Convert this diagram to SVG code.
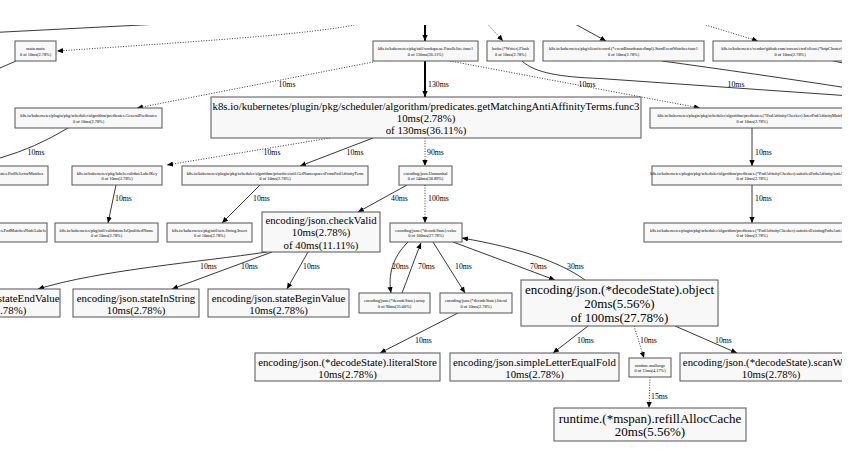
<svg xmlns="http://www.w3.org/2000/svg" width="851" height="475" viewBox="0 0 851 475">
<style>
.n rect{fill:#f8f8f8;stroke:#555;stroke-width:1}
text{font-family:"Liberation Serif","Times New Roman",serif;fill:#000;text-anchor:middle}
.s{font-size:4.3px}
.m{font-size:10.8px}
.b{font-size:13px}
.l{font-size:7.8px;text-anchor:start}
.lc{font-size:7.8px}
.e path{fill:none;stroke:#222;stroke-width:0.9}
.e path.d{stroke-dasharray:1,1.6}
.e path.k{stroke-width:2;stroke:#000}
</style>
<defs>
<marker id="a" markerUnits="userSpaceOnUse" markerWidth="7" markerHeight="6" refX="6" refY="2.6" orient="auto"><path d="M0,0 L6,2.6 L0,5.2 z" fill="#000"/></marker>
<clipPath id="view"><rect x="0" y="25" width="842" height="450"/></clipPath>
</defs>
<rect width="851" height="475" fill="#fff"/>
<g clip-path="url(#view)">
<g id="edges" class="e">
<path d="M0,32.2 L200,22"/>
<path class="d" d="M372,21 C 330,33 220,40 57,51" marker-end="url(#a)"/>
<path d="M16,61 L0,68"/>
<path class="k" d="M425,18 L425,41" marker-end="url(#a)"/>
<path class="d" d="M483,19 L503,41" marker-end="url(#a)"/>
<path d="M566,19 L606,41" marker-end="url(#a)"/>
<path class="d" d="M686,19 L758,41" marker-end="url(#a)"/>
<path d="M830,60 L851,65"/>
<path class="k" d="M425,61 L425,97" marker-end="url(#a)"/>
<path class="d" d="M373,62 L137,108" marker-end="url(#a)"/>
<path class="d" d="M450,61 L700,108" marker-end="url(#a)"/>
<path d="M522,61 C 535,73 560,77 600,78.5 L851,96"/>
<path d="M662,61 C 720,69 790,79 851,88.5"/>
<path d="M68,128 Q 35,148 0,158"/>
<path class="d" d="M330,138 L167,165" marker-end="url(#a)"/>
<path d="M373,138 L300,166" marker-end="url(#a)"/>
<path class="d" d="M425,138 L425,166" marker-end="url(#a)"/>
<path d="M752,128 L752,166" marker-end="url(#a)"/>
<path d="M752,185 L752,223" marker-end="url(#a)"/>
<path d="M116,185 L108,223" marker-end="url(#a)"/>
<path d="M260,185 L222,223" marker-end="url(#a)"/>
<path d="M407,185 L358,212" marker-end="url(#a)"/>
<path class="d" d="M425,185 L425,223" marker-end="url(#a)"/>
<path d="M267,252 C 200,262 100,270 38,289" marker-end="url(#a)"/>
<path d="M272,252 L172,289" marker-end="url(#a)"/>
<path d="M308,252 L287,289" marker-end="url(#a)"/>
<path d="M408,242 C 392,258 388,275 391,293" marker-end="url(#a)"/>
<path d="M402,293 C 408,278 414,260 421,243" marker-end="url(#a)"/>
<path d="M433,242 L465,293" marker-end="url(#a)"/>
<path d="M453,242 L555,280" marker-end="url(#a)"/>
<path d="M585,280 C 560,262 520,248 462,238" marker-end="url(#a)"/>
<path d="M458,313 L380,353" marker-end="url(#a)"/>
<path d="M588,326 L553,353" marker-end="url(#a)"/>
<path class="d" d="M634,326 L644,358" marker-end="url(#a)"/>
<path d="M675,326 L737,353" marker-end="url(#a)"/>
<path class="d" d="M650,377 L649,408" marker-end="url(#a)"/>
<text class="l" x="428" y="86.5">130ms</text>
<text class="lc" x="287" y="86.5">10ms</text>
<text class="lc" x="587" y="86.5">10ms</text>
<text class="lc" x="736" y="86.5">10ms</text>
<text class="lc" x="36" y="154.5">10ms</text>
<text class="lc" x="272" y="154.5">10ms</text>
<text class="lc" x="355" y="154.5">10ms</text>
<text class="l" x="427" y="154.5">90ms</text>
<text class="l" x="755" y="154.5">10ms</text>
<text class="l" x="115" y="200.5">10ms</text>
<text class="l" x="253" y="200.5">10ms</text>
<text class="l" x="391" y="200.5">40ms</text>
<text class="l" x="428" y="200.5">100ms</text>
<text class="l" x="755" y="200.5">10ms</text>
<text class="l" x="200" y="268.5">10ms</text>
<text class="l" x="241" y="268.5">10ms</text>
<text class="l" x="303" y="268.5">10ms</text>
<text class="l" x="392" y="268.5">20ms</text>
<text class="l" x="418" y="268.5">70ms</text>
<text class="l" x="455" y="268.5">10ms</text>
<text class="l" x="530" y="268.5">70ms</text>
<text class="l" x="567" y="268.5">30ms</text>
<text class="l" x="415" y="342.5">10ms</text>
<text class="l" x="577" y="342.5">10ms</text>
<text class="l" x="640" y="342.5">10ms</text>
<text class="l" x="715" y="342.5">10ms</text>
<text class="l" x="651" y="398.5">15ms</text>
</g>
<g id="n_main" class="n"><rect x="15" y="41" width="41" height="20"/><text class="s" x="35.5" y="50">main.main</text><text class="s" x="35.5" y="55.5">0 of 10ms(2.78%)</text></g>
<g id="n_parallelize" class="n"><rect x="373" y="41" width="105" height="20"/><text class="s" x="425.5" y="50">k8s.io/kubernetes/pkg/util/workqueue.Parallelize.func1</text><text class="s" x="425.5" y="55.5">0 of 130ms(36.11%)</text></g>
<g id="n_flush" class="n"><rect x="487" y="41" width="47" height="20"/><text class="s" x="510.5" y="50">bufio.(*Writer).Flush</text><text class="s" x="510.5" y="55.5">0 of 10ms(2.78%)</text></g>
<g id="n_watcher" class="n"><rect x="543" y="41" width="161" height="20"/><text class="s" x="623.5" y="50">k8s.io/kubernetes/pkg/client/record.(*eventBroadcasterImpl).StartEventWatcher.func1</text><text class="s" x="623.5" y="55.5">0 of 10ms(2.78%)</text></g>
<g id="n_top4" class="n"><rect x="713" y="41" width="154" height="20"/><text class="s" x="790" y="50">k8s.io/kubernetes/vendor/github.com/coreos/etcd/client.(*httpClusterClient).Do</text><text class="s" x="790" y="55.5">0 of 10ms(2.78%)</text></g>
<g id="n_func3" class="n"><rect x="211" y="97" width="430" height="41"/><text class="m" x="426" y="109.5">k8s.io/kubernetes/plugin/pkg/scheduler/algorithm/predicates.getMatchingAntiAffinityTerms.func3</text><text class="m" x="426" y="121.5">10ms(2.78%)</text><text class="m" x="426" y="133.5">of 130ms(36.11%)</text></g>
<g id="n_genpred" class="n"><rect x="15" y="108" width="147" height="20"/><text class="s" x="88.5" y="117">k8s.io/kubernetes/plugin/pkg/scheduler/algorithm/predicates.GeneralPredicates</text><text class="s" x="88.5" y="122.5">0 of 10ms(2.78%)</text></g>
<g id="n_inter" class="n"><rect x="650" y="108" width="204" height="20"/><text class="s" x="752" y="117">k8s.io/kubernetes/plugin/pkg/scheduler/algorithm/predicates.(*PodAffinityChecker).InterPodAffinityMatches</text><text class="s" x="752" y="122.5">0 of 10ms(2.78%)</text></g>
<g id="n_podsel" class="n"><rect x="-102" y="166" width="150" height="19"/><text class="s" x="-27" y="174.5">k8s.io/kubernetes/plugin/pkg/scheduler/algorithm/predicates.PodSelectorMatches</text><text class="s" x="-27" y="180">0 of 10ms(2.78%)</text></g>
<g id="n_validate" class="n"><rect x="72" y="166" width="90" height="19"/><text class="s" x="117" y="174.5">k8s.io/kubernetes/pkg/labels.validateLabelKey</text><text class="s" x="117" y="180">0 of 10ms(2.78%)</text></g>
<g id="n_calc" class="n"><rect x="182" y="166" width="186" height="19"/><text class="s" x="275" y="174.5">k8s.io/kubernetes/plugin/pkg/scheduler/algorithm/priorities/util.GetNamespacesFromPodAffinityTerm</text><text class="s" x="275" y="180">0 of 10ms(2.78%)</text></g>
<g id="n_unmarshal" class="n"><rect x="399" y="166" width="53" height="19"/><text class="s" x="425.5" y="174.5">encoding/json.Unmarshal</text><text class="s" x="425.5" y="180">0 of 140ms(38.89%)</text></g>
<g id="n_satpods" class="n"><rect x="652" y="166" width="200" height="19"/><text class="s" x="752" y="174.5">k8s.io/kubernetes/plugin/pkg/scheduler/algorithm/predicates.(*PodAffinityChecker).satisfiesPodsAffinityAntiAffinity</text><text class="s" x="752" y="180">0 of 10ms(2.78%)</text></g>
<g id="n_nodelabels" class="n"><rect x="-103" y="223" width="150" height="19"/><text class="s" x="-28" y="231.5">k8s.io/kubernetes/plugin/pkg/scheduler/algorithm/predicates.PodMatchesNodeLabels</text><text class="s" x="-28" y="237">0 of 10ms(2.78%)</text></g>
<g id="n_isqual" class="n"><rect x="55" y="223" width="103" height="19"/><text class="s" x="106.5" y="231.5">k8s.io/kubernetes/pkg/util/validation.IsQualifiedName</text><text class="s" x="106.5" y="237">0 of 10ms(2.78%)</text></g>
<g id="n_insert" class="n"><rect x="167" y="223" width="85" height="19"/><text class="s" x="209.5" y="231.5">k8s.io/kubernetes/pkg/util/sets.String.Insert</text><text class="s" x="209.5" y="237">0 of 10ms(2.78%)</text></g>
<g id="n_checkvalid" class="n"><rect x="262" y="212" width="118" height="40"/><text class="m" x="321" y="223.5">encoding/json.checkValid</text><text class="m" x="321" y="236">10ms(2.78%)</text><text class="m" x="321" y="248.5">of 40ms(11.11%)</text></g>
<g id="n_value" class="n"><rect x="390" y="223" width="72" height="19"/><text class="s" x="426" y="231.5">encoding/json.(*decodeState).value</text><text class="s" x="426" y="237">0 of 100ms(27.78%)</text></g>
<g id="n_satexist" class="n"><rect x="644" y="223" width="216" height="19"/><text class="s" x="752" y="231.5">k8s.io/kubernetes/plugin/pkg/scheduler/algorithm/predicates.(*PodAffinityChecker).satisfiesExistingPodsAntiAffinity</text><text class="s" x="752" y="237">0 of 10ms(2.78%)</text></g>
<g id="n_endvalue" class="n"><rect x="-66" y="289" width="126" height="28"/><text class="m" x="-3" y="301.5">encoding/json.stateEndValue</text><text class="m" x="-3" y="314">10ms(2.78%)</text></g>
<g id="n_instring" class="n"><rect x="73" y="289" width="126" height="28"/><text class="m" x="136" y="301.5">encoding/json.stateInString</text><text class="m" x="136" y="314">10ms(2.78%)</text></g>
<g id="n_beginvalue" class="n"><rect x="208" y="289" width="141" height="28"/><text class="m" x="278.5" y="301.5">encoding/json.stateBeginValue</text><text class="m" x="278.5" y="314">10ms(2.78%)</text></g>
<g id="n_array" class="n"><rect x="359" y="293" width="71" height="20"/><text class="s" x="394.5" y="302">encoding/json.(*decodeState).array</text><text class="s" x="394.5" y="307.5">0 of 90ms(25.00%)</text></g>
<g id="n_literal" class="n"><rect x="440" y="293" width="72" height="20"/><text class="s" x="476" y="302">encoding/json.(*decodeState).literal</text><text class="s" x="476" y="307.5">0 of 10ms(2.78%)</text></g>
<g id="n_object" class="n"><rect x="521" y="280" width="197" height="46"/><text class="b" x="619.5" y="293.5">encoding/json.(*decodeState).object</text><text class="b" x="619.5" y="307.5">20ms(5.56%)</text><text class="b" x="619.5" y="321.5">of 100ms(27.78%)</text></g>
<g id="n_literalstore" class="n"><rect x="255" y="353" width="185" height="28"/><text class="m" x="347.5" y="365.5">encoding/json.(*decodeState).literalStore</text><text class="m" x="347.5" y="378">10ms(2.78%)</text></g>
<g id="n_simplefold" class="n"><rect x="450" y="353" width="169" height="28"/><text class="m" x="534.5" y="365.5">encoding/json.simpleLetterEqualFold</text><text class="m" x="534.5" y="378">10ms(2.78%)</text></g>
<g id="n_malloc" class="n"><rect x="629" y="358" width="42" height="19"/><text class="s" x="650" y="366.5">runtime.mallocgc</text><text class="s" x="650" y="372">0 of 15ms(4.17%)</text></g>
<g id="n_scanwhile" class="n"><rect x="680" y="353" width="182" height="28"/><text class="m" x="771" y="365.5">encoding/json.(*decodeState).scanWhile</text><text class="m" x="771" y="378">10ms(2.78%)</text></g>
<g id="n_refill" class="n"><rect x="554" y="408" width="192" height="33"/><text class="b" x="650" y="422.5">runtime.(*mspan).refillAllocCache</text><text class="b" x="650" y="436">20ms(5.56%)</text></g>
</g>
</svg>
